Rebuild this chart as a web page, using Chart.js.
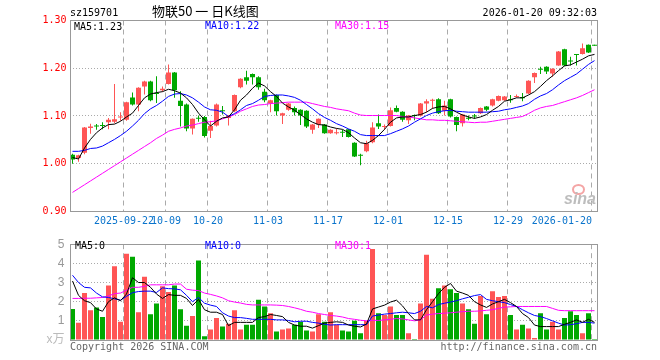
<!DOCTYPE html>
<html>
<head>
<meta charset="utf-8">
<script src="https://cdn.jsdelivr.net/npm/chart.js@4"></script>
<style>
    body { margin: 0; background: #fff; }
    #wrap { position: relative; width: 660px; height: 360px; overflow: hidden; }
    canvas { position: absolute; left: 0; }
    .t { position: absolute; white-space: nowrap; font: 10px "DejaVu Sans Mono", monospace; line-height: 12px; }
</style>
</head>
<body>
<div id="wrap">
    <canvas id="priceChart" width="660" height="232" style="top:0"></canvas>
    <canvas id="volChart" width="660" height="128" style="top:232px"></canvas>

    <div class="t" style="left:70px;top:7px;color:#000">sz159701</div>
    <div class="t" style="left:152px;top:3px;font:13px 'Noto Sans CJK SC';line-height:16px;color:#000">物联50 一 日K线图</div>
    <div class="t" style="right:63px;top:7px;color:#000">2026-01-20 09:32:03</div>

    <div class="t" style="left:74px;top:21px;color:#000">MA5:1.23</div>
    <div class="t" style="left:205px;top:20px;color:#0000ff">MA10:1.22</div>
    <div class="t" style="left:335px;top:20px;color:#ff00ff">MA30:1.15</div>

    <div class="t" style="left:75px;top:240px;color:#000">MA5:0</div>
    <div class="t" style="left:205px;top:240px;color:#0000ff">MA10:0</div>
    <div class="t" style="left:335px;top:240px;color:#ff00ff">MA30:1</div>

    <div class="t" style="left:70px;top:341px;color:#666">Copyright 2026 SINA.COM</div>
    <div class="t" style="right:63px;top:341px;color:#666">http://finance.sina.com.cn</div>

    <div style="position:absolute;left:572px;top:184px;width:9px;height:7px;border:2px solid #f4a5a5;border-radius:50%"></div>
    <div class="t" style="left:564px;top:191px;font:italic bold 16px 'Liberation Sans';line-height:16px;color:#bdbdbd">sina</div>
</div>

<script>
// trading days shown on the chart
const days = [
    '2025-09-09','2025-09-10','2025-09-11','2025-09-12','2025-09-15','2025-09-16','2025-09-17','2025-09-18','2025-09-19','2025-09-22',
    '2025-09-23','2025-09-24','2025-09-25','2025-09-26','2025-09-29','2025-09-30','2025-10-09','2025-10-10','2025-10-13','2025-10-14',
    '2025-10-15','2025-10-16','2025-10-17','2025-10-20','2025-10-21','2025-10-22','2025-10-23','2025-10-24','2025-10-27','2025-10-28',
    '2025-10-29','2025-10-30','2025-10-31','2025-11-03','2025-11-04','2025-11-05','2025-11-06','2025-11-07','2025-11-10','2025-11-11',
    '2025-11-12','2025-11-13','2025-11-14','2025-11-17','2025-11-18','2025-11-19','2025-11-20','2025-11-21','2025-11-24','2025-11-25',
    '2025-11-26','2025-11-27','2025-11-28','2025-12-01','2025-12-02','2025-12-03','2025-12-04','2025-12-05','2025-12-08','2025-12-09',
    '2025-12-10','2025-12-11','2025-12-12','2025-12-15','2025-12-16','2025-12-17','2025-12-18','2025-12-19','2025-12-22','2025-12-23',
    '2025-12-24','2025-12-25','2025-12-26','2025-12-29','2025-12-30','2025-12-31','2026-01-05','2026-01-06','2026-01-07','2026-01-08',
    '2026-01-09','2026-01-12','2026-01-13','2026-01-14','2026-01-15','2026-01-16','2026-01-19','2026-01-20'
]

const tickDates = ['2025-09-22','2025-10-09','2025-10-20','2025-11-03','2025-11-17','2025-12-01','2025-12-15','2025-12-29','2026-01-20']
const tickLabels = ['2025-09-22','10-09','10-20','11-03','11-17','12-01','12-15','12-29','2026-01-20']

const open = [
    1.019,1.012,1.023,1.075,1.079,1.081,1.087,1.088,1.097,1.092,
    1.139,1.124,1.162,1.172,1.148,1.154,1.167,1.191,1.132,1.124,
    1.074,1.096,1.098,1.069,1.080,1.112,1.096,1.110,1.160,1.181,
    1.188,1.181,1.151,1.126,1.144,1.101,1.113,1.117,1.113,1.111,
    1.071,1.082,1.082,1.064,1.064,1.067,1.072,1.044,1.019,1.026,
    1.045,1.085,1.077,1.079,1.117,1.109,1.091,1.102,1.101,1.126,
    1.132,1.135,1.111,1.135,1.098,1.085,1.096,1.101,1.106,1.120,
    1.122,1.132,1.133,1.135,1.140,1.140,1.147,1.181,1.199,1.203,
    1.189,1.206,1.240,1.216,1.230,1.230,1.249,1.248
]
const high = [
    1.021,1.019,1.077,1.084,1.083,1.087,1.096,1.167,1.108,1.130,
    1.149,1.160,1.174,1.174,1.183,1.162,1.208,1.192,1.152,1.126,
    1.095,1.101,1.100,1.090,1.126,1.121,1.102,1.145,1.179,1.195,
    1.189,1.183,1.157,1.134,1.145,1.107,1.127,1.120,1.114,1.112,
    1.083,1.095,1.083,1.072,1.074,1.071,1.073,1.045,1.021,1.048,
    1.087,1.103,1.082,1.118,1.122,1.110,1.102,1.103,1.127,1.135,
    1.136,1.137,1.132,1.136,1.099,1.104,1.101,1.104,1.118,1.121,
    1.136,1.143,1.142,1.144,1.145,1.148,1.175,1.191,1.203,1.204,
    1.200,1.236,1.241,1.224,1.230,1.252,1.250,1.248
]
const low = [
    1.000,1.004,1.020,1.063,1.071,1.072,1.072,1.085,1.090,1.090,
    1.122,1.110,1.145,1.131,1.127,1.151,1.166,1.138,1.078,1.068,
    1.061,1.088,1.055,1.054,1.078,1.103,1.080,1.108,1.158,1.166,
    1.166,1.155,1.129,1.108,1.101,1.083,1.111,1.101,1.081,1.075,
    1.063,1.075,1.063,1.063,1.061,1.056,1.055,1.014,0.997,1.024,
    1.043,1.073,1.071,1.078,1.108,1.088,1.083,1.091,1.099,1.108,
    1.115,1.104,1.101,1.097,1.068,1.078,1.091,1.094,1.104,1.110,
    1.120,1.131,1.132,1.128,1.138,1.131,1.146,1.169,1.188,1.188,
    1.182,1.205,1.204,1.206,1.206,1.229,1.232,1.247
]
const close = [
    1.009,1.018,1.076,1.078,1.078,1.079,1.092,1.093,1.099,1.129,
    1.124,1.159,1.172,1.133,1.146,1.157,1.191,1.154,1.121,1.074,
    1.094,1.094,1.058,1.079,1.124,1.110,1.101,1.144,1.178,1.174,
    1.181,1.160,1.133,1.133,1.110,1.106,1.126,1.108,1.101,1.078,
    1.082,1.094,1.064,1.071,1.066,1.065,1.056,1.015,1.017,1.043,
    1.076,1.078,1.079,1.112,1.109,1.092,1.101,1.100,1.126,1.131,
    1.134,1.106,1.122,1.099,1.081,1.103,1.094,1.099,1.117,1.113,
    1.135,1.142,1.141,1.133,1.141,1.137,1.174,1.190,1.197,1.193,
    1.199,1.235,1.206,1.214,1.228,1.242,1.233,1.247
]

const ma5 = [
    1.013,1.010,1.033,1.051,1.065,1.075,1.082,1.083,1.089,1.098,
    1.106,1.122,1.138,1.146,1.149,1.151,1.156,1.153,1.148,1.138,
    1.124,1.106,1.092,1.079,1.089,1.096,1.098,1.113,1.133,1.144,
    1.158,1.169,1.163,1.151,1.141,1.127,1.119,1.112,1.103,1.094,
    1.087,1.082,1.081,1.077,1.074,1.072,1.065,1.054,1.044,1.042,
    1.049,1.059,1.072,1.087,1.096,1.098,1.098,1.101,1.103,1.108,
    1.116,1.119,1.120,1.115,1.108,1.102,1.098,1.095,1.098,1.103,
    1.112,1.120,1.131,1.134,1.138,1.138,1.144,1.151,1.162,1.174,
    1.184,1.195,1.205,1.207,1.213,1.219,1.226,1.229
]
const ma10 = [
    1.026,1.026,1.028,1.032,1.033,1.037,1.044,1.051,1.059,1.068,
    1.079,1.091,1.105,1.115,1.122,1.131,1.141,1.146,1.147,1.144,
    1.138,1.129,1.119,1.113,1.112,1.108,1.099,1.105,1.113,1.122,
    1.126,1.133,1.141,1.143,1.144,1.144,1.142,1.139,1.133,1.124,
    1.115,1.105,1.097,1.091,1.084,1.079,1.073,1.068,1.061,1.059,
    1.059,1.059,1.059,1.063,1.068,1.073,1.079,1.087,1.094,1.101,
    1.106,1.109,1.111,1.112,1.110,1.109,1.108,1.108,1.108,1.108,
    1.109,1.110,1.113,1.115,1.118,1.121,1.126,1.135,1.142,1.147,
    1.155,1.165,1.174,1.181,1.188,1.198,1.208,1.216
]
const ma30 = [
    0.940,0.948,0.956,0.964,0.972,0.980,0.988,0.996,1.004,1.012,
    1.020,1.028,1.036,1.044,1.053,1.060,1.068,1.072,1.075,1.079,
    1.081,1.084,1.087,1.088,1.090,1.094,1.098,1.103,1.110,1.115,
    1.120,1.123,1.124,1.126,1.127,1.128,1.129,1.129,1.129,1.129,
    1.126,1.123,1.120,1.118,1.115,1.113,1.111,1.106,1.102,1.101,
    1.101,1.101,1.101,1.101,1.101,1.099,1.098,1.096,1.094,1.092,
    1.092,1.091,1.091,1.090,1.089,1.088,1.087,1.086,1.087,1.087,
    1.089,1.091,1.093,1.095,1.097,1.099,1.105,1.112,1.117,1.120,
    1.122,1.126,1.130,1.134,1.138,1.143,1.149,1.155
]

const volume = [
    1.62,0.90,2.45,1.55,1.70,1.20,2.85,3.85,0.95,4.50,
    4.35,1.45,3.30,1.35,1.90,2.80,2.50,2.85,1.60,0.75,
    1.25,4.15,0.20,0.55,1.15,0.70,0.85,1.55,0.55,0.80,
    0.80,2.10,1.75,1.40,0.45,0.55,0.60,0.80,0.95,0.50,
    0.45,1.35,0.95,1.45,0.80,0.50,0.45,1.00,0.35,1.00,
    4.75,1.40,1.30,1.75,1.30,1.30,0.35,0.05,1.90,4.45,
    2.15,2.70,2.85,2.65,2.45,1.90,1.60,0.85,2.30,1.35,
    2.55,2.25,2.30,1.30,0.55,0.80,0.60,0.10,1.40,0.55,
    0.95,0.55,1.15,1.50,1.30,0.35,1.40,0.05
]
const volMa5 = [
    3.08,2.33,2.05,1.95,1.62,1.50,2.00,2.20,2.05,2.40,
    3.25,3.00,3.00,2.75,2.40,2.17,2.37,2.33,2.33,2.17,
    1.80,2.12,1.58,1.45,1.45,1.33,0.75,0.92,0.92,0.92,
    0.92,1.17,1.22,1.33,1.28,1.22,0.92,0.78,0.72,0.72,
    0.62,0.75,0.88,0.92,0.95,0.92,0.78,0.72,0.68,0.83,
    1.62,1.72,1.82,1.98,2.08,1.78,1.38,1.05,1.05,1.58,
    2.00,2.42,2.75,2.95,2.55,2.45,2.33,2.00,1.83,1.70,
    1.88,2.00,2.12,1.95,1.75,1.38,1.17,0.78,0.70,0.70,
    0.70,0.70,0.82,0.92,1.05,0.92,1.08,0.92
]
const volMa10 = [
    3.38,3.00,2.75,2.72,2.45,2.25,2.22,2.15,2.08,2.28,
    2.47,2.53,2.55,2.55,2.48,2.72,2.68,2.67,2.62,2.33,
    2.00,2.22,1.92,1.82,1.75,1.42,1.25,1.17,1.17,1.13,
    1.08,1.08,1.08,1.08,1.05,1.05,1.02,0.95,0.98,0.98,
    0.92,0.88,0.82,0.78,0.80,0.80,0.80,0.80,0.80,0.80,
    1.25,1.30,1.35,1.38,1.42,1.45,1.42,1.38,1.50,1.75,
    1.68,1.85,1.92,1.98,2.05,2.15,2.23,2.32,2.37,2.12,
    2.05,2.00,1.95,1.85,1.75,1.58,1.42,1.28,1.22,1.12,
    1.00,0.88,0.78,0.80,0.85,0.92,0.92,0.88
]
const volMa30 = [
    2.17,2.17,2.18,2.18,2.20,2.22,2.30,2.42,2.45,2.60,
    2.75,2.75,2.80,2.88,2.88,2.88,2.88,2.92,2.92,2.65,
    2.60,2.58,2.45,2.38,2.30,2.20,2.05,1.98,1.93,1.86,
    1.83,1.83,1.83,1.83,1.82,1.80,1.75,1.68,1.60,1.50,
    1.45,1.38,1.33,1.28,1.25,1.20,1.12,1.08,1.03,1.00,
    1.03,1.02,1.05,1.08,1.12,1.10,1.05,1.00,1.05,1.30,
    1.35,1.38,1.40,1.42,1.45,1.48,1.50,1.50,1.52,1.55,
    1.58,1.65,1.72,1.73,1.75,1.75,1.75,1.75,1.75,1.75,
    1.65,1.55,1.53,1.53,1.53,1.53,1.53,1.53
]

const UP = '#ff5555'
const DOWN = '#00a800'
const GRID = '#aaaaaa'
const MONO = '"DejaVu Sans Mono", monospace'

const candleColors = close.map((c, i) => c >= open[i] ? UP : DOWN)
const gridIdx = tickDates.map(d => days.indexOf(d))

// plain gray frame round the plot area
const frame = {
    id: 'frame',
    afterDraw(chart) {
        const { ctx, chartArea: a } = chart
        const l = Math.round(a.left) + 0.5
        const r = Math.floor(a.right) + 0.5
        const t = Math.floor(a.top) + 0.5
        const b = Math.floor(a.bottom) + 0.5
        ctx.save()
        ctx.strokeStyle = '#999'
        ctx.lineWidth = 1
        ctx.strokeRect(l, t, r - l, b - t)
        ctx.restore()
    }
}

// date labels sit on the dashed day lines, the last one is pulled inside
const dateLabels = {
    id: 'dateLabels',
    afterDraw(chart) {
        const { ctx, chartArea } = chart
        const xs = chart.scales.x
        const half = xs.width / days.length / 2
        ctx.save()
        ctx.font = '10px ' + MONO
        ctx.fillStyle = '#0a74cc'
        ctx.textBaseline = 'middle'
        tickDates.forEach((d, i) => {
            const px = Math.round(xs.getPixelForValue(days.indexOf(d)) - half)
            const w = ctx.measureText(tickLabels[i]).width
            let left = px - w / 2
            if (left + w > chartArea.right - 3) left = px - w
            ctx.fillText(tickLabels[i], left, 221)
        })
        ctx.restore()
    }
}

const xAxis = {
    type: 'category',
    offset: true,
    ticks: { display: false, autoSkip: false },
    grid: {
        offset: true,
        drawTicks: false,
        color: c => gridIdx.includes(c.index) ? GRID : 'transparent'
    },
    border: { display: false, dash: [5, 4] },
    afterFit: s => { s.height = 0 }
}

const innerGrid = c => (c.index === 0 || c.index === c.scale.ticks.length - 1) ? 'transparent' : GRID

const lineSet = (data, color) => ({
    type: 'line',
    data: data,
    borderColor: color,
    borderWidth: 1,
    pointRadius: 0,
    tension: 0,
    order: 0
})

new Chart(document.getElementById('priceChart'), {
    type: 'bar',
    data: {
        labels: days,
        datasets: [
            lineSet(ma5, '#000000'),
            lineSet(ma10, '#0000ff'),
            lineSet(ma30, '#ff00ff'),
            {
                data: open.map((o, i) => [o, close[i]]),
                backgroundColor: candleColors,
                barThickness: 5,
                minBarLength: 1,
                inflateAmount: 0,
                grouped: false,
                order: 1
            },
            {
                data: low.map((l, i) => [l, high[i]]),
                backgroundColor: candleColors,
                barThickness: 1,
                minBarLength: 1,
                inflateAmount: 0,
                grouped: false,
                order: 2
            }
        ]
    },
    options: {
        responsive: false,
        animation: false,
        layout: { autoPadding: false, padding: { left: 0, right: 62.5, top: 20.5, bottom: 20.5 } },
        plugins: { legend: { display: false }, tooltip: { enabled: false } },
        scales: {
            x: xAxis,
            y: {
                min: 0.9,
                max: 1.3,
                ticks: {
                    stepSize: 0.1,
                    padding: 3,
                    color: '#ff0000',
                    font: { family: MONO, size: 10 },
                    callback: v => v.toFixed(2)
                },
                grid: { drawTicks: false, color: innerGrid },
                border: { display: false, dash: [1, 2] },
                afterFit: s => { s.width = 69.5 }
            }
        }
    },
    plugins: [frame, dateLabels]
})

new Chart(document.getElementById('volChart'), {
    type: 'bar',
    data: {
        labels: days,
        datasets: [
            lineSet(volMa5, '#000000'),
            lineSet(volMa10, '#0000ff'),
            lineSet(volMa30, '#ff00ff'),
            {
                data: volume,
                backgroundColor: candleColors,
                barThickness: 5,
                inflateAmount: 0,
                grouped: false,
                order: 1
            }
        ]
    },
    options: {
        responsive: false,
        animation: false,
        layout: { autoPadding: false, padding: { left: 0, right: 62.5, top: 8, bottom: 20 } },
        plugins: { legend: { display: false }, tooltip: { enabled: false } },
        scales: {
            x: xAxis,
            y: {
                min: 0,
                max: 5,
                ticks: {
                    stepSize: 1,
                    padding: 5,
                    color: c => c.tick.value === 0 ? '#bbbbbb' : '#999999',
                    font: { family: '"Liberation Sans", "Noto Sans CJK SC"', size: 12 },
                    callback: v => v === 0 ? 'x万' : v
                },
                grid: { drawTicks: false, color: innerGrid },
                border: { display: false, dash: [1, 2] },
                afterFit: s => { s.width = 69.5 }
            }
        }
    },
    plugins: [frame]
})
</script>
</body>
</html>
